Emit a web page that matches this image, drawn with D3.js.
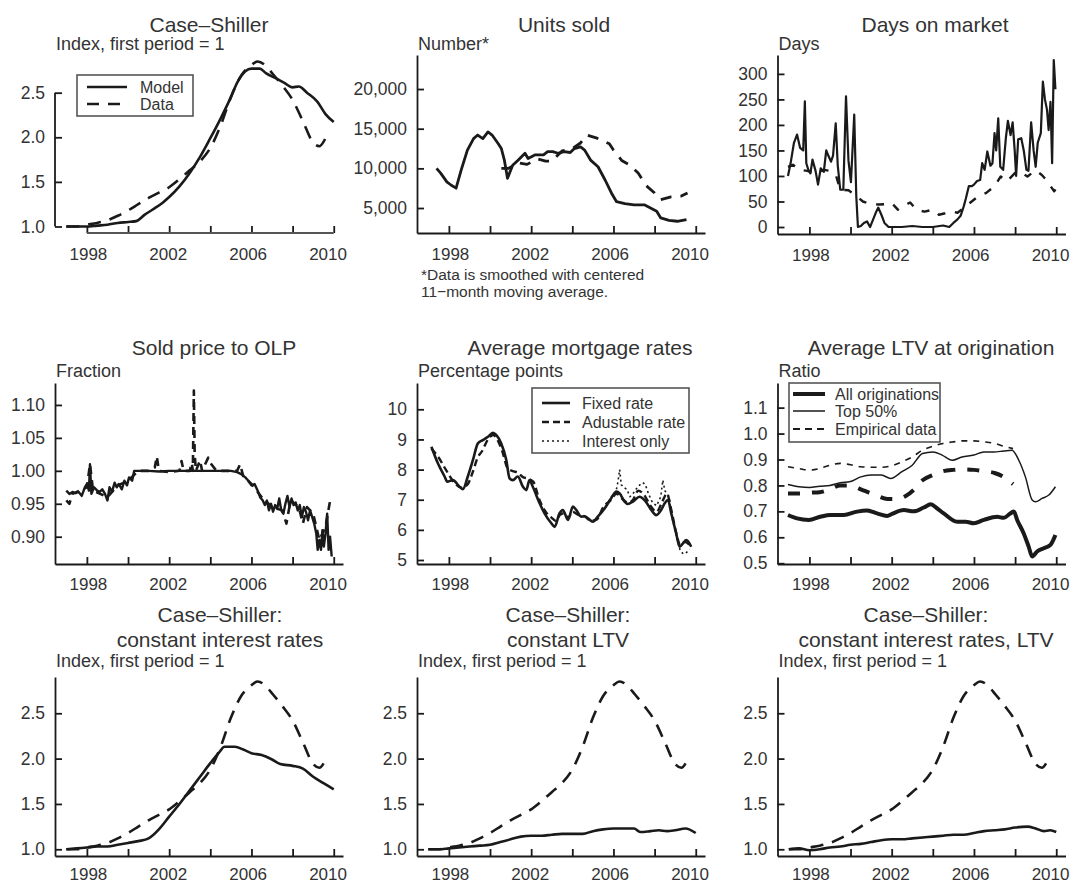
<!DOCTYPE html>
<html>
<head>
<meta charset="utf-8">
<script src="https://cdn.jsdelivr.net/npm/d3@7"></script>
<style>
  body { margin: 0; background: #fff; }
  svg { display: block; }
</style>
</head>
<body>
<div id="chart"></div>
<script>
/* Shared x axis: years. */
const xDomain = [1996.45, 2010.45];
const xTicks = [1998, 2000, 2002, 2004, 2006, 2008, 2010];
const xLabels = [1998, 2002, 2006, 2010];

/* Case-Shiller, empirical index (same series in four panels). */
const csData = [[1997.0,1.00],[1997.5,1.00],[1998.0,1.02],[1998.5,1.04],[1999.0,1.07],[1999.5,1.12],
  [2000.0,1.18],[2000.5,1.25],[2001.0,1.32],[2001.5,1.38],[2002.0,1.44],[2002.5,1.53],[2003.0,1.63],
  [2003.5,1.73],[2004.0,1.88],[2004.5,2.13],[2005.0,2.45],[2005.5,2.69],[2006.0,2.81],[2006.3,2.85],
  [2006.7,2.80],[2007.0,2.72],[2007.5,2.58],[2008.0,2.42],[2008.5,2.18],[2009.0,1.94],[2009.3,1.90],[2009.6,1.99]];

const csModel = [[1997.0,1.00],[1997.5,1.00],[1998.0,1.00],[1998.5,1.01],[1999.0,1.02],[1999.5,1.04],
  [2000.0,1.05],[2000.4,1.06],[2000.8,1.13],[2001.2,1.19],[2001.7,1.27],[2002.0,1.33],[2002.5,1.45],
  [2003.0,1.60],[2003.5,1.78],[2004.0,1.99],[2004.5,2.21],[2005.0,2.45],[2005.3,2.61],[2005.7,2.74],
  [2006.0,2.77],[2006.4,2.77],[2006.7,2.72],[2007.2,2.66],[2007.6,2.61],[2008.0,2.56],[2008.3,2.57],
  [2008.7,2.50],[2009.2,2.40],[2009.6,2.26],[2010.0,2.17]];

const csConstRates = [[1997.0,1.00],[1997.5,1.01],[1998.0,1.02],[1998.5,1.03],[1999.0,1.03],[1999.5,1.05],
  [2000.0,1.07],[2000.5,1.09],[2001.0,1.12],[2001.5,1.22],[2002.0,1.36],[2002.5,1.50],[2003.0,1.65],
  [2003.5,1.80],[2004.0,1.95],[2004.4,2.06],[2004.7,2.13],[2005.2,2.13],[2005.6,2.10],[2006.0,2.06],
  [2006.5,2.04],[2007.0,1.99],[2007.4,1.94],[2008.0,1.92],[2008.5,1.89],[2009.0,1.80],[2009.5,1.73],[2010.0,1.66]];

const csConstLtv = [[1997.0,1.00],[1997.5,1.00],[1998.0,1.01],[1998.5,1.02],[1999.0,1.03],[1999.5,1.04],
  [2000.0,1.05],[2000.5,1.08],[2001.0,1.11],[2001.5,1.14],[2002.0,1.15],[2002.5,1.15],[2003.0,1.16],
  [2003.5,1.17],[2004.0,1.17],[2004.5,1.17],[2005.0,1.20],[2005.5,1.22],[2006.0,1.23],[2006.5,1.23],
  [2007.0,1.23],[2007.3,1.19],[2007.8,1.20],[2008.2,1.21],[2008.6,1.20],[2009.0,1.21],[2009.5,1.23],[2010.0,1.18]];

const csConstBoth = [[1997.0,1.00],[1997.5,1.01],[1998.0,0.99],[1998.5,1.00],[1999.0,1.02],[1999.5,1.03],
  [2000.0,1.05],[2000.5,1.06],[2001.0,1.08],[2001.5,1.10],[2002.0,1.11],[2002.5,1.11],[2003.0,1.12],
  [2003.5,1.13],[2004.0,1.14],[2004.5,1.15],[2005.0,1.16],[2005.5,1.16],[2006.0,1.18],[2006.5,1.20],
  [2007.0,1.21],[2007.5,1.22],[2008.0,1.24],[2008.6,1.25],[2009.0,1.23],[2009.4,1.20],[2009.7,1.21],[2010.0,1.19]];

/* Units sold. */
const unitsModel = [[1997.4,10000],[1997.6,9400],[1997.9,8300],[1998.1,7900],[1998.35,7500],[1998.6,9800],
  [1998.9,12300],[1999.2,13750],[1999.4,14200],[1999.65,13750],[1999.9,14600],[2000.1,14200],[2000.4,13100],
  [2000.55,12500],[2000.7,11000],[2000.85,8750],[2001.1,10400],[2001.35,11000],[2001.7,11900],[2001.85,11250],
  [2002.2,11700],[2002.6,11700],[2002.8,12100],[2003.05,12100],[2003.3,11900],[2003.6,12100],[2003.9,12000],
  [2004.1,12500],[2004.4,12700],[2004.6,12300],[2004.9,11000],[2005.25,10200],[2005.6,8500],[2005.9,6900],
  [2006.15,5800],[2006.55,5550],[2007.0,5400],[2007.5,5400],[2007.8,5000],[2008.1,4600],[2008.3,3750],
  [2008.7,3450],[2009.1,3330],[2009.55,3550]];

const unitsData = [[2000.55,10000],[2000.9,10000],[2001.4,10700],[2001.8,10500],[2002.3,11200],[2002.7,10900],
  [2003.0,10900],[2003.5,12200],[2004.0,12500],[2004.4,13200],[2004.7,14200],[2005.2,13800],[2005.8,13100],
  [2006.0,12300],[2006.4,11000],[2006.8,10400],[2007.2,9400],[2007.6,7800],[2008.0,6900],[2008.3,6050],
  [2008.8,6400],[2009.3,6500],[2009.6,6900]];

/* Days on market. */
const daysModel = [[1996.96,100],[1997.1,128],[1997.25,165],[1997.4,181],[1997.55,155],[1997.7,150],
  [1997.78,246],[1997.85,125],[1997.95,112],[1998.05,105],[1998.15,132],[1998.3,110],[1998.42,83],
  [1998.55,115],[1998.7,108],[1998.82,150],[1998.92,140],[1999.05,128],[1999.15,140],[1999.28,203],
  [1999.38,120],[1999.5,73],[1999.65,73],[1999.78,256],[1999.9,130],[2000.02,88],[2000.18,220],
  [2000.28,60],[2000.36,0],[2000.5,2],[2000.65,8],[2000.8,11],[2000.95,0],[2001.1,15],[2001.25,30],
  [2001.35,38],[2001.5,24],[2001.65,8],[2001.85,0],[2002.5,0],[2003.0,2],[2003.5,0],[2004.0,0],
  [2004.5,3],[2004.8,0],[2005.0,8],[2005.2,15],[2005.35,22],[2005.5,40],[2005.6,55],[2005.75,80],
  [2005.9,80],[2006.0,83],[2006.15,90],[2006.3,92],[2006.4,125],[2006.52,112],[2006.65,148],[2006.8,120],
  [2006.9,125],[2007.0,184],[2007.08,150],[2007.18,213],[2007.28,118],[2007.42,112],[2007.55,174],
  [2007.65,208],[2007.78,180],[2007.88,205],[2007.98,150],[2008.05,100],[2008.15,172],[2008.3,174],
  [2008.42,150],[2008.55,112],[2008.65,110],[2008.78,205],[2008.9,150],[2009.0,118],[2009.1,165],
  [2009.25,184],[2009.35,285],[2009.45,250],[2009.55,230],[2009.63,190],[2009.72,245],[2009.8,125],
  [2009.88,327],[2009.96,270]];

const daysData = [[1996.96,118],[1997.2,122],[1997.5,112],[1997.9,110],[1998.3,105],[1998.7,112],
  [1999.0,110],[1999.3,100],[1999.5,73],[1999.9,72],[2000.3,60],[2000.6,50],[2001.0,45],[2001.4,44],
  [2001.8,45],[2002.0,47],[2002.3,34],[2002.6,42],[2002.9,48],[2003.2,34],[2003.6,30],[2004.0,34],
  [2004.3,24],[2004.6,27],[2004.9,31],[2005.2,28],[2005.5,37],[2005.8,47],[2006.2,60],[2006.6,67],
  [2007.0,80],[2007.3,99],[2007.6,89],[2008.0,106],[2008.3,106],[2008.6,99],[2009.0,111],[2009.3,102],
  [2009.5,93],[2009.9,70],[2010.0,76]];

/* Sold price to original list price. */
const olpModel = [[1997.0,0.970],[1997.15,0.965],[1997.3,0.968],[1997.45,0.966],[1997.6,0.968],[1997.75,0.962],
  [1997.9,0.975],[1998.0,0.980],[1998.1,0.970],[1998.15,1.010],[1998.22,0.965],[1998.35,0.975],[1998.5,0.970],
  [1998.62,0.968],[1998.75,0.972],[1998.88,0.965],[1999.0,0.955],[1999.1,0.975],[1999.22,0.968],[1999.35,0.982],
  [1999.45,0.975],[1999.55,0.980],[1999.7,0.972],[1999.82,0.985],[1999.95,0.978],[2000.05,0.990],[2000.2,0.985],
  [2000.3,1.000],[2000.6,1.000],[2001.0,1.000],[2001.5,0.999],[2002.0,1.000],[2002.5,1.000],[2003.0,1.000],
  [2003.5,1.000],[2004.0,1.000],[2004.5,1.000],[2005.0,1.000],[2005.3,0.998],[2005.5,0.995],[2005.7,0.990],
  [2005.85,0.985],[2006.0,0.978],[2006.15,0.980],[2006.3,0.970],[2006.42,0.960],[2006.55,0.955],[2006.65,0.948],
  [2006.75,0.955],[2006.85,0.940],[2006.95,0.950],[2007.05,0.938],[2007.15,0.948],[2007.25,0.942],[2007.35,0.958],
  [2007.45,0.940],[2007.55,0.935],[2007.65,0.950],[2007.75,0.962],[2007.85,0.945],[2007.95,0.958],[2008.05,0.948],
  [2008.15,0.952],[2008.25,0.940],[2008.35,0.948],[2008.45,0.930],[2008.55,0.945],[2008.65,0.938],[2008.75,0.925],
  [2008.85,0.940],[2008.95,0.930],[2009.05,0.920],[2009.15,0.905],[2009.22,0.880],[2009.3,0.895],[2009.38,0.880],
  [2009.45,0.910],[2009.52,0.885],[2009.6,0.905],[2009.68,0.935],[2009.75,0.880],[2009.82,0.900],[2009.9,0.870]];

const olpData = [[1997.0,0.955],[1997.15,0.950],[1997.3,0.965],[1998.0,0.975],[1998.15,1.010],[1998.3,0.970],
  [1999.0,0.960],[1999.5,0.978],[2000.0,0.985],[2000.5,1.000],[2001.0,1.000],[2001.3,1.005],[2001.4,1.022],
  [2001.5,1.000],[2002.0,0.998],[2002.5,1.000],[2002.6,1.015],[2002.7,1.000],[2003.0,1.000],[2003.1,1.012],
  [2003.15,1.000],[2003.2,1.122],[2003.24,1.025],[2003.3,1.000],[2003.5,1.016],[2003.6,1.000],[2003.9,1.020],
  [2004.0,1.012],[2004.3,1.000],[2005.0,1.000],[2005.3,1.000],[2005.45,1.010],[2005.6,0.992],[2006.0,0.980],
  [2006.5,0.960],[2007.0,0.945],[2007.5,0.940],[2007.7,0.920],[2007.9,0.955],[2008.3,0.945],[2008.5,0.920],
  [2008.7,0.945],[2009.0,0.935],[2009.3,0.895],[2009.6,0.915],[2009.83,0.956]];

/* Average mortgage rates. */
const rateFixed = [[1997.15,8.76],[1997.47,8.20],[1997.79,7.77],[1997.92,7.60],[1998.19,7.65],[1998.52,7.43],
  [1998.68,7.35],[1998.92,7.77],[1999.17,8.32],[1999.41,8.87],[1999.65,8.98],[1999.9,9.09],[2000.14,9.22],
  [2000.3,9.15],[2000.54,8.87],[2000.79,8.32],[2000.95,7.71],[2001.11,7.65],[2001.35,7.77],[2001.6,7.43],
  [2001.76,7.32],[2001.92,7.65],[2002.08,7.43],[2002.41,6.88],[2002.65,6.55],[2002.98,6.22],[2003.14,6.10],
  [2003.38,6.55],[2003.54,6.66],[2003.79,6.33],[2004.03,6.77],[2004.19,6.66],[2004.43,6.44],[2004.6,6.45],
  [2004.76,6.38],[2005.0,6.27],[2005.24,6.44],[2005.57,6.71],[2005.89,7.05],[2006.14,7.27],[2006.3,7.21],
  [2006.54,6.94],[2006.7,6.86],[2006.95,6.94],[2007.27,7.10],[2007.51,6.99],[2007.84,6.66],[2008.08,6.49],
  [2008.32,6.66],[2008.49,6.88],[2008.65,6.99],[2008.81,6.55],[2009.05,5.88],[2009.22,5.44],[2009.38,5.55],
  [2009.54,5.66],[2009.78,5.44]];

const rateAdjustable = [[1997.15,8.70],[1997.5,8.40],[1997.85,8.00],[1998.2,7.62],[1998.6,7.40],[1998.9,7.50],
  [1999.15,7.90],[1999.4,8.40],[1999.6,8.60],[1999.9,9.00],[2000.15,9.15],[2000.35,9.00],[2000.6,8.60],
  [2000.85,8.05],[2001.1,7.95],[2001.35,7.90],[2001.6,7.75],[2001.85,7.70],[2002.1,7.60],[2002.4,7.00],
  [2002.7,6.60],[2003.0,6.40],[2003.2,6.30],[2003.4,6.50],[2003.6,6.55],[2003.8,6.40],[2004.0,6.60],
  [2004.3,6.50],[2004.6,6.45],[2004.9,6.30],[2005.2,6.35],[2005.5,6.75],[2005.9,7.00],[2006.14,7.20],
  [2006.4,7.05],[2006.7,6.90],[2006.95,7.00],[2007.2,7.30],[2007.45,7.20],[2007.8,6.80],[2008.1,6.60],
  [2008.35,6.90],[2008.6,7.20],[2008.8,6.70],[2009.05,5.90],[2009.25,5.50],[2009.45,5.60],[2009.7,5.50]];

const rateInterestOnly = [[2005.65,6.80],[2005.9,7.10],[2006.1,7.20],[2006.22,7.60],[2006.3,8.00],[2006.38,7.50],
  [2006.5,7.40],[2006.65,7.35],[2006.8,7.10],[2006.95,7.20],[2007.2,7.45],[2007.43,7.57],[2007.55,7.50],
  [2007.7,7.20],[2007.9,6.90],[2008.1,6.80],[2008.3,7.10],[2008.4,7.65],[2008.5,7.30],[2008.7,7.10],
  [2008.85,6.40],[2009.05,5.80],[2009.25,5.30],[2009.4,5.20],[2009.55,5.25],[2009.7,5.35]];

/* Average LTV at origination. */
const ltvAll = [[1996.96,0.686],[1997.4,0.673],[1997.97,0.667],[1998.53,0.679],[1999.02,0.686],[1999.67,0.686],
  [2000.32,0.699],[2000.8,0.703],[2001.29,0.692],[2001.78,0.682],[2002.02,0.690],[2002.59,0.705],[2003.07,0.700],
  [2003.56,0.715],[2003.9,0.727],[2004.2,0.712],[2004.53,0.692],[2005.18,0.660],[2005.6,0.660],[2005.99,0.654],
  [2006.48,0.667],[2007.13,0.679],[2007.45,0.675],[2007.77,0.692],[2007.94,0.699],[2008.1,0.667],[2008.42,0.615],
  [2008.66,0.564],[2008.83,0.526],[2009.07,0.545],[2009.39,0.558],[2009.72,0.571],[2009.96,0.609]];

const ltvTop50 = [[1996.96,0.804],[1997.5,0.795],[1998.0,0.792],[1998.5,0.797],[1999.0,0.800],[1999.5,0.810],
  [2000.0,0.815],[2000.5,0.833],[2001.0,0.840],[2001.5,0.840],[2001.95,0.827],[2002.5,0.853],[2003.0,0.878],
  [2003.5,0.923],[2004.0,0.929],[2004.45,0.917],[2004.94,0.897],[2005.42,0.910],[2005.99,0.917],[2006.48,0.929],
  [2006.96,0.929],[2007.45,0.933],[2007.85,0.936],[2008.18,0.897],[2008.5,0.833],[2008.83,0.744],[2008.99,0.737],
  [2009.31,0.750],[2009.64,0.763],[2009.96,0.795]];

const ltvEmpiricalTop = [[1996.96,0.872],[1997.5,0.865],[1998.0,0.859],[1998.5,0.865],[1999.0,0.878],[1999.5,0.885],
  [2000.0,0.880],[2000.5,0.872],[2001.0,0.870],[2001.5,0.870],[2002.0,0.876],[2002.5,0.891],[2003.0,0.910],
  [2003.5,0.936],[2004.0,0.951],[2004.5,0.962],[2005.0,0.968],[2005.5,0.972],[2006.0,0.972],[2006.5,0.968],
  [2007.0,0.962],[2007.5,0.950],[2007.9,0.942]];

const ltvEmpirical = [[1996.96,0.769],[1997.5,0.769],[1998.0,0.772],[1998.5,0.774],[1999.0,0.785],[1999.5,0.800],
  [2000.0,0.800],[2000.5,0.785],[2000.9,0.772],[2001.3,0.760],[2001.8,0.748],[2002.3,0.748],[2002.7,0.760],
  [2003.1,0.785],[2003.5,0.820],[2004.0,0.840],[2004.5,0.855],[2005.0,0.860],[2005.5,0.862],[2006.0,0.860],
  [2006.5,0.855],[2007.0,0.848],[2007.4,0.835],[2007.9,0.805]];

const FONT = '"Liberation Sans", Arial, Helvetica, sans-serif';
const INK = '#1a1a1a';
const TEXT = '#333';
const plotWidth = 288;

/* Line styles. */
const solid = (w) => ({ width: w, dash: null });
const dashed = (w, d) => ({ width: w, dash: d });

const panels = [
  { title: ['Case–Shiller'], titleX: 209, titleY: [32], unit: 'Index, first period = 1', unitY: 50,
    left: 55, top: 57, bottom: 233, yDomain: [0.927, 2.9], yTicks: [1.0, 1.5, 2.0, 2.5], fmt: '.1f',
    rStyle: true, labelPad: 15,
    series: [
      { data: csModel, style: solid(2.6), smooth: true },
      { data: csData, style: dashed(2.6, '13,9'), smooth: true }],
    legend: { box: [77, 75, 116, 41], sx: [87, 127], tx: 140,
      items: [{ y: 87, label: 'Model', style: solid(2.6) }, { y: 104, label: 'Data', style: dashed(2.6, '12,9') }] } },
  { title: ['Units sold'], titleX: 564, titleY: [32], unit: 'Number*', unitY: 50,
    left: 417, top: 55, bottom: 233, yDomain: [1850, 24290], yTicks: [5000, 10000, 15000, 20000], fmt: ',.0f',
    labelPad: 15,
    series: [
      { data: unitsModel, style: solid(2.8) },
      { data: unitsData, style: dashed(2.8, '11,9') }],
    note: ['*Data is smoothed with centered', '11−month moving average.'] },
  { title: ['Days on market'], titleX: 935, titleY: [32], unit: 'Days', unitY: 50,
    left: 777.5, top: 55, bottom: 234, yDomain: [-13.7, 337], yTicks: [0, 50, 100, 150, 200, 250, 300], fmt: 'd',
    labelPad: 15,
    series: [
      { data: daysModel, style: solid(2.2) },
      { data: daysData, style: dashed(2.4, '8,10') }] },
  { title: ['Sold price to OLP'], titleX: 214, titleY: [355], unit: 'Fraction', unitY: 377,
    left: 55, top: 383, bottom: 564, yDomain: [0.8586, 1.1333], yTicks: [0.90, 0.95, 1.00, 1.05, 1.10], fmt: '.2f',
    labelPad: 14,
    series: [
      { data: olpModel, style: solid(2.4) },
      { data: olpData, style: dashed(2.6, '8,6') }] },
  { title: ['Average mortgage rates'], titleX: 580, titleY: [355], unit: 'Percentage points', unitY: 377,
    left: 417, top: 383, bottom: 564, yDomain: [4.867, 10.873], yTicks: [5, 6, 7, 8, 9, 10], fmt: 'd',
    labelPad: 14,
    series: [
      { data: rateInterestOnly, style: dashed(1.6, '2,3') },
      { data: rateAdjustable, style: dashed(2.4, '7,4'), smooth: true },
      { data: rateFixed, style: solid(2.6), smooth: true }],
    legend: { box: [532, 388, 157, 65], sx: [542, 570], tx: 582,
      items: [{ y: 403, label: 'Fixed rate', style: solid(2.6) },
        { y: 422, label: 'Adustable rate', style: dashed(2.4, '7,4') },
        { y: 441, label: 'Interest only', style: dashed(1.6, '2,3') }] } },
  { title: ['Average LTV at origination'], titleX: 931, titleY: [355], unit: 'Ratio', unitY: 377,
    left: 777.5, top: 383, bottom: 564, yDomain: [0.497, 1.195], yTicks: [0.5, 0.6, 0.7, 0.8, 0.9, 1.0, 1.1], fmt: '.1f',
    labelPad: 14,
    series: [
      { data: ltvEmpiricalTop, style: dashed(1.6, '6,6'), smooth: true },
      { data: ltvEmpirical, style: dashed(4, '12,12'), smooth: true },
      { data: ltvTop50, style: solid(1.5), smooth: true },
      { data: ltvAll, style: solid(4), smooth: true }],
    legend: { box: [789, 383, 151, 59], sx: [793, 825], tx: 835,
      items: [{ y: 394, label: 'All originations', style: solid(4) },
        { y: 411, label: 'Top 50%', style: solid(1.5) },
        { y: 429, label: 'Empirical data', style: dashed(1.8, '7,5') }] } },
  { title: ['Case–Shiller:', 'constant interest rates'], titleX: 220, titleY: [622, 647],
    unit: 'Index, first period = 1', unitY: 667,
    left: 55, top: 677, bottom: 856, yDomain: [0.926, 2.9], yTicks: [1.0, 1.5, 2.0, 2.5], fmt: '.1f',
    labelPad: 12,
    series: [
      { data: csConstRates, style: solid(2.6), smooth: true },
      { data: csData, style: dashed(2.6, '13,9'), smooth: true }] },
  { title: ['Case–Shiller:', 'constant LTV'], titleX: 568, titleY: [622, 647],
    unit: 'Index, first period = 1', unitY: 667,
    left: 417, top: 677, bottom: 856, yDomain: [0.926, 2.9], yTicks: [1.0, 1.5, 2.0, 2.5], fmt: '.1f',
    labelPad: 12,
    series: [
      { data: csConstLtv, style: solid(2.6), smooth: true },
      { data: csData, style: dashed(2.6, '13,9'), smooth: true }] },
  { title: ['Case–Shiller:', 'constant interest rates, LTV'], titleX: 926, titleY: [622, 647],
    unit: 'Index, first period = 1', unitY: 667,
    left: 777.5, top: 677, bottom: 856, yDomain: [0.926, 2.9], yTicks: [1.0, 1.5, 2.0, 2.5], fmt: '.1f',
    labelPad: 12,
    series: [
      { data: csConstBoth, style: solid(2.6), smooth: true },
      { data: csData, style: dashed(2.6, '13,9'), smooth: true }] }
];

const svg = d3.select('#chart').append('svg')
  .attr('width', 1071)
  .attr('height', 886)
  .style('background', '#fff');

function applyStyle(sel, style) {
  sel.attr('stroke', INK)
    .attr('stroke-width', style.width)
    .attr('stroke-dasharray', style.dash)
    .attr('fill', 'none');
}

function drawPanel(p) {
  const g = svg.append('g');
  const x = d3.scaleLinear().domain(xDomain).range([p.left, p.left + plotWidth]);
  const y = d3.scaleLinear().domain(p.yDomain).range([p.bottom, p.top]);

  // series
  p.series.forEach((s) => {
    const line = d3.line()
      .x((d) => x(d[0]))
      .y((d) => y(d[1]))
      .curve(s.smooth ? d3.curveMonotoneX : d3.curveLinear);
    g.append('path')
      .datum(s.data)
      .attr('d', line)
      .attr('stroke-linejoin', 'round')
      .call(applyStyle, s.style);
  });

  // axes, ticks pointing inward
  const fmt = d3.format(p.fmt);
  const gX = g.append('g')
    .attr('transform', `translate(0, ${p.bottom})`)
    .call(d3.axisBottom(x)
      .tickValues(xTicks)
      .tickSizeInner(-7)
      .tickSizeOuter(0)
      .tickPadding(p.labelPad)
      .tickFormat((d) => (xLabels.includes(d) ? d : '')));
  const gY = g.append('g')
    .attr('transform', `translate(${p.left}, 0)`)
    .call(d3.axisLeft(y)
      .tickValues(p.yTicks)
      .tickSizeInner(-7)
      .tickSizeOuter(0)
      .tickPadding(10)
      .tickFormat(fmt));

  [gX, gY].forEach((a) => {
    a.attr('color', INK).attr('font-family', FONT);
    a.selectAll('path.domain, .tick line').attr('stroke-width', 1.8);
    a.selectAll('text').attr('fill', TEXT);
  });
  gX.attr('font-size', 17);
  gY.attr('font-size', 17.5);
  // year labels sit a little closer together than the ticks
  gX.selectAll('.tick text').attr('dx', (d) => 1 - 0.6 * (d - 1998));

  // first panel: axis lines only span the outer ticks
  if (p.rStyle) {
    gX.select('path.domain').remove();
    gY.select('path.domain').remove();
    gX.append('line')
      .attr('x1', x(xTicks[0])).attr('x2', x(xTicks[xTicks.length - 1]))
      .attr('stroke', '#555').attr('stroke-width', 1.8);
    gY.append('line')
      .attr('y1', y(d3.min(p.yTicks))).attr('y2', y(d3.max(p.yTicks)))
      .attr('stroke', INK).attr('stroke-width', 1.8);
  }

  // titles
  p.title.forEach((t, i) => {
    g.append('text')
      .attr('x', p.titleX)
      .attr('y', p.titleY[i])
      .attr('text-anchor', 'middle')
      .attr('font-family', FONT)
      .attr('font-size', 21)
      .attr('fill', TEXT)
      .text(t);
  });
  g.append('text')
    .attr('x', p.left + 1)
    .attr('y', p.unitY)
    .attr('font-family', FONT)
    .attr('font-size', 18)
    .attr('fill', TEXT)
    .text(p.unit);

  if (p.note) {
    p.note.forEach((t, i) => {
      g.append('text')
        .attr('x', p.left + 4)
        .attr('y', 280 + i * 17)
        .attr('font-family', FONT)
        .attr('font-size', 15.5)
        .attr('fill', TEXT)
        .text(t);
    });
  }

  if (p.legend) {
    const L = p.legend;
    g.append('rect')
      .attr('x', L.box[0]).attr('y', L.box[1])
      .attr('width', L.box[2]).attr('height', L.box[3])
      .attr('fill', '#fff')
      .attr('stroke', '#555')
      .attr('stroke-width', 1.6);
    L.items.forEach((it) => {
      g.append('line')
        .attr('x1', L.sx[0]).attr('x2', L.sx[1])
        .attr('y1', it.y).attr('y2', it.y)
        .call(applyStyle, it.style);
      g.append('text')
        .attr('x', L.tx)
        .attr('y', it.y + 5.5)
        .attr('font-family', FONT)
        .attr('font-size', 16)
        .attr('fill', TEXT)
        .text(it.label);
    });
  }
}

panels.forEach(drawPanel);
</script>
</body>
</html>
